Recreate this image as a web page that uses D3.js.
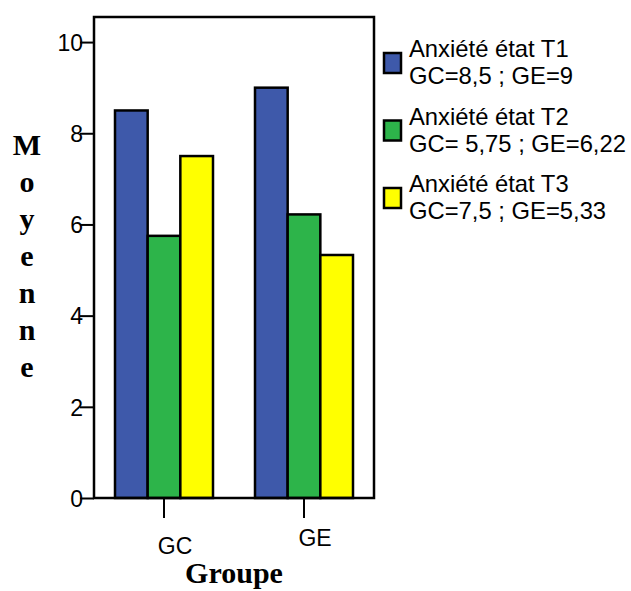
<!DOCTYPE html>
<html><head><meta charset="utf-8">
<script src="https://cdn.jsdelivr.net/npm/d3@7"></script>
<style>body{margin:0;background:#fff}svg{display:block}</style>
</head><body>
<script>
const groups = ["GC", "GE"];
const seriesNames = ["Anxiété état T1", "Anxiété état T2", "Anxiété état T3"];
const seriesNotes = ["GC=8,5 ; GE=9", "GC= 5,75 ; GE=6,22", "GC=7,5 ; GE=5,33"];
const t1 = [8.5, 9];
const t2 = [5.75, 6.22];
const t3 = [7.5, 5.33];
const colors = ["#3E59AA", "#2DB44A", "#FFFF00"];
const yTicks = [0, 2, 4, 6, 8, 10];
const yTitle = "Moyenne";
const xTitle = "Groupe";

const series = [t1, t2, t3];
const W = 631, H = 591;
const L = 94, R = 374, T = 17, B = 498;

const svg = d3.select("body").append("svg").attr("width", W).attr("height", H);

const y = d3.scaleLinear().domain([0, 10.55]).range([B, T]);
const x0 = d3.scaleBand().domain(groups).range([L, R]).paddingInner(0.3).paddingOuter(0.15);
const x1 = d3.scaleBand().domain(d3.range(series.length)).range([0, x0.bandwidth()]);

// bars
groups.forEach((g, gi) => {
  series.forEach((s, si) => {
    svg.append("rect")
      .attr("x", x0(g) + x1(si))
      .attr("y", y(s[gi]))
      .attr("width", x1.bandwidth())
      .attr("height", y(0) - y(s[gi]))
      .attr("fill", colors[si])
      .attr("stroke", "#000")
      .attr("stroke-width", 2.5);
  });
});

// frame
svg.append("rect").attr("x", L).attr("y", T).attr("width", R - L).attr("height", B - T)
  .attr("fill", "none").attr("stroke", "#000").attr("stroke-width", 2.5);

// y axis
const yAxis = svg.append("g").attr("transform", `translate(${L},0)`)
  .call(d3.axisLeft(y).tickValues(yTicks).tickSize(14).tickPadding(0).tickFormat(d3.format("d")));
yAxis.select(".domain").remove();
yAxis.selectAll(".tick line").attr("stroke", "#000").attr("stroke-width", 2);
yAxis.selectAll(".tick text").attr("font-family", "Liberation Sans, Arial, sans-serif")
  .attr("font-size", 23).attr("fill", "#000").attr("x", -11).attr("dy", "0.36em");

// x axis
const xAxis = svg.append("g").attr("transform", `translate(0,${B})`)
  .call(d3.axisBottom(x0).tickSize(20).tickPadding(0));
xAxis.select(".domain").remove();
xAxis.selectAll(".tick line").attr("stroke", "#000").attr("stroke-width", 2);
const labelDy = {GC: 56, GE: 48};
xAxis.selectAll(".tick text").attr("font-family", "Liberation Sans, Arial, sans-serif")
  .attr("font-size", 23).attr("fill", "#000")
  .attr("x", 11).attr("dy", null).attr("y", d => labelDy[d]);

// x title
svg.append("text").attr("x", 234).attr("y", 583).attr("text-anchor", "middle")
  .attr("font-family", "Liberation Serif, Times New Roman, serif").attr("font-weight", "bold")
  .attr("font-size", 30).text(xTitle);

// y title vertical letters
svg.append("g").selectAll("text").data(yTitle.split("")).join("text")
  .attr("x", 27).attr("y", (d, i) => 155 + i * 37).attr("text-anchor", "middle")
  .attr("font-family", "Liberation Serif, Times New Roman, serif").attr("font-weight", "bold")
  .attr("font-size", 30).text(d => d);

// legend
const leg = svg.append("g");
seriesNames.forEach((n, i) => {
  const by = 57 + i * 67.5;
  leg.append("rect").attr("x", 384).attr("y", by - 4).attr("width", 17).attr("height", 20)
    .attr("fill", colors[i]).attr("stroke", "#000").attr("stroke-width", 2.5);
  leg.append("text").attr("x", 409).attr("y", by)
    .attr("font-family", "Liberation Sans, Arial, sans-serif").attr("font-size", 23.8).text(n);
  leg.append("text").attr("x", 409).attr("y", by + 27)
    .attr("font-family", "Liberation Sans, Arial, sans-serif").attr("font-size", 23.8).text(seriesNotes[i]);
});
</script>
</body></html>
